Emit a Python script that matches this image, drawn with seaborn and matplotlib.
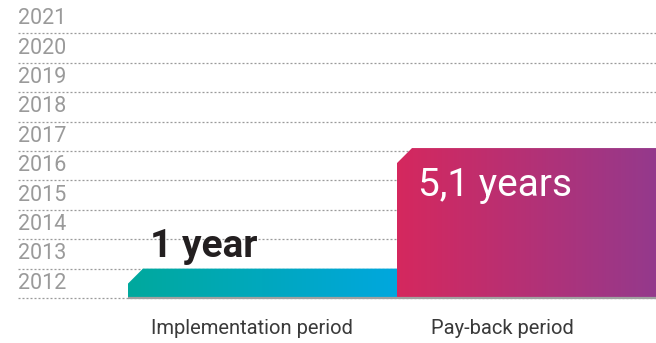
import numpy as np
import seaborn as sns
import matplotlib.pyplot as plt
from matplotlib.colors import LinearSegmentedColormap
from matplotlib.patches import Polygon
from matplotlib.transforms import ScaledTranslation

# data
years = [2012, 2013, 2014, 2015, 2016, 2017, 2018, 2019, 2020, 2021]
periods = ['Implementation period', 'Pay-back period']
durations = [1.0, 5.1]
value_labels = ['1 year', '5,1 years']

gradients = [('#00a99d', '#00a7de'), ('#d5285e', '#923a8e')]

sns.set_style('white')
plt.rcParams['font.family'] = ['Roboto', 'DejaVu Sans']

fig = plt.figure(figsize=(6.56, 3.43), dpi=100)
ax = fig.add_axes([18 / 656, 1 - 298 / 343, 648 / 656, 294 / 343])

sns.barplot(x=periods, y=durations, width=1, color='#cccccc', ax=ax, zorder=2)
ax.set_xlim(-0.5 - 110 / 269, 1.5)
ax.set_ylim(0, 10)
sns.despine(ax=ax, left=True, bottom=True)
ax.set_yticks([])
ax.set_xlabel('')
ax.set_ylabel('')

# dotted year grid + labels
for i, yr in enumerate(years):
    ax.axhline(i, color='#9a9a9a', lw=0.9, ls=(0, (1.6, 1.6)), zorder=1, clip_on=False)
    ax.text(0, i + 0.5, str(yr), transform=ax.get_yaxis_transform(),
            ha='left', va='center', fontsize=15.5, color='#9a9a9a')

# px -> data units
px_x = 1 / (ax.transData.transform((1, 0))[0] - ax.transData.transform((0, 0))[0])
px_y = 1 / (ax.transData.transform((0, 1))[1] - ax.transData.transform((0, 0))[1])
cut_x, cut_y = 15 * px_x, 15 * px_y

# gradient-filled bars with chamfered top-left corner
for bar, (c0, c1) in zip(ax.patches, gradients):
    x0, y0 = bar.get_x(), bar.get_y()
    w, h = bar.get_width(), bar.get_height()
    bar.set_visible(False)
    poly = Polygon([(x0, y0), (x0, y0 + h - cut_y), (x0 + cut_x, y0 + h),
                    (x0 + w, y0 + h), (x0 + w, y0)], closed=True,
                   facecolor='none', edgecolor='none', transform=ax.transData)
    ax.add_patch(poly)
    cmap = LinearSegmentedColormap.from_list('g', [c0, c1])
    img = ax.imshow(np.linspace(0, 1, 256).reshape(1, -1), cmap=cmap, aspect='auto',
                    extent=[x0, x0 + w, y0, y0 + h], zorder=3)
    img.set_clip_path(poly)

ax.set_xlim(-0.5 - 110 / 269, 1.5)
ax.set_ylim(0, 10)

# baseline under bars
ax.hlines(0, -0.5, 1.5, color='#a0a0a0', lw=1.6, zorder=4, clip_on=False)

# value labels
b1, b2 = ax.patches[0], ax.patches[1]
ax.annotate(value_labels[0], xy=(b1.get_x(), b1.get_height()), xytext=(16, 8),
            textcoords='offset points', ha='left', va='baseline',
            fontsize=28, fontweight='bold', color='#231f20', zorder=5)
ax.annotate(value_labels[1], xy=(b2.get_x(), b2.get_height()), xytext=(15, -34.5),
            textcoords='offset points', ha='left', va='baseline',
            fontsize=28, color='white', zorder=5)

# category labels
ax.tick_params(axis='x', length=0, pad=15, labelsize=14.5, labelcolor='#3a3a3a')
shifts = [-11, -29]
for lab, s in zip(ax.get_xticklabels(), shifts):
    lab.set_transform(lab.get_transform() + ScaledTranslation(s / 100, 0, fig.dpi_scale_trans))

fig.savefig('out.png', dpi=100)
